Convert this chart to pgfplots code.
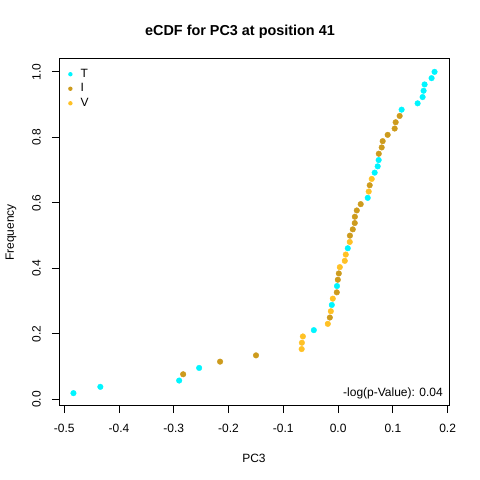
\documentclass[border=0pt]{standalone}
\usepackage{fontspec}
\setmainfont{Liberation Sans}
\usepackage{pgfplots}
\pgfplotsset{compat=1.18}
\definecolor{cT}{RGB}{0,245,255}
\definecolor{cI}{RGB}{205,155,29}
\definecolor{cV}{RGB}{255,193,37}
\begin{document}
\fontsize{12bp}{14bp}\selectfont
\begin{tikzpicture}
\path[use as bounding box] (0,0) rectangle (480bp,480bp);
\node[anchor=base, font=\fontsize{14.4bp}{16bp}\selectfont\bfseries] at (240bp,444bp) {eCDF for PC3 at position 41};
\node[anchor=center, font=\fontsize{12bp}{14bp}\selectfont] at (254bp,22bp) {PC3};
\node[anchor=center, rotate=90, font=\fontsize{12bp}{14bp}\selectfont] at (11bp,247.5bp) {Frequency};
\begin{axis}[
  at={(59bp,74bp)}, anchor=south west,
  scale only axis, width=390bp, height=347bp,
  xmin=-0.5096, xmax=0.2025, ymin=-0.02, ymax=1.03923,
  axis line style={line width=1bp},
  every tick/.style={black, line width=1bp},
  tick align=outside, major tick length=7bp,
  xtick pos=bottom, ytick pos=left,
  xtick={-0.5,-0.4,-0.3,-0.2,-0.1,0,0.1,0.2},
  xticklabels={-0.5,-0.4,-0.3,-0.2,-0.1,0.0,0.1,0.2},
  ytick={0,0.2,0.4,0.6,0.8,1.0},
  yticklabels={0.0,0.2,0.4,0.6,0.8,1.0},
  ticklabel style={font=\fontsize{12bp}{14bp}\selectfont},
  xticklabel style={anchor=north, yshift=-7bp},
  yticklabel style={xshift=-7bp, rotate=90, anchor=south},
  legend style={draw=none, fill=none, at={(0,1)}, anchor=north west,
    font=\fontsize{12bp}{14bp}\selectfont, row sep=0.5bp, xshift=6bp, yshift=-6bp},
  legend cell align=left,
  legend image code/.code={\fill[#1] (0bp,0bp) circle (2.2bp); \path (-2.2bp,0bp) -- (8.2bp,0bp);},
  clip=false,
]
\addplot[only marks, mark=*, mark size=2.8bp, color=cT, draw=none] coordinates {
(-0.4832,0.019231) (-0.4341,0.038462) (-0.2902,0.057692) (-0.2537,0.096154)
(-0.0443,0.211538) (-0.0115,0.288462) (-0.0020,0.346154) (0.0177,0.461538)
(0.0541,0.615385) (0.0668,0.692308) (0.0723,0.711538) (0.0741,0.730769)
(0.1160,0.884615) (0.1452,0.903846) (0.1543,0.923077) (0.1561,0.942308)
(0.1579,0.961538) (0.1707,0.980769) (0.1761,1.000000)
};
\addlegendentry{T}
\addplot[only marks, mark=*, mark size=2.8bp, color=cI, draw=none] coordinates {
(-0.2829,0.076923) (-0.2155,0.115385) (-0.1499,0.134615) (-0.0151,0.250000)
(-0.0024,0.326923) (-0.0005,0.365385) (0.0013,0.384615) (0.0216,0.500000)
(0.0268,0.519231) (0.0304,0.538462) (0.0306,0.557692) (0.0341,0.576923)
(0.0413,0.596154) (0.0577,0.653846) (0.0743,0.750000) (0.0796,0.769231)
(0.0814,0.788462) (0.0905,0.807692) (0.1033,0.826923) (0.1051,0.846154)
(0.1124,0.865385)
};
\addlegendentry{I}
\addplot[only marks, mark=*, mark size=2.8bp, color=cV, draw=none] coordinates {
(-0.0665,0.153846) (-0.0661,0.173077) (-0.0643,0.192308) (-0.0188,0.230769)
(-0.0133,0.269231) (-0.0097,0.307692) (0.0031,0.403846) (0.0122,0.423077)
(0.0140,0.442308) (0.0213,0.480769) (0.0559,0.634615) (0.0614,0.673077)
};
\addlegendentry{V}
\node[anchor=base east, inner sep=0pt, font=\fontsize{12bp}{14bp}\selectfont] at (rel axis cs:1,0) [xshift=-6bp, yshift=9bp] {-log(p-Value): 0.04};
\end{axis}
\end{tikzpicture}
\end{document}
